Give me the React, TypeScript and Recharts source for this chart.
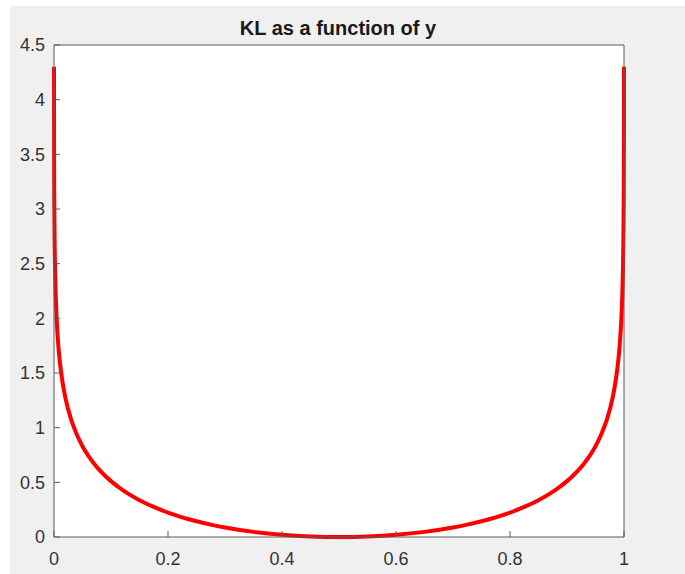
import React from 'react'
import { LineChart, Line, XAxis, YAxis, CartesianGrid } from 'recharts'

// y values (x axis) and KL readings (y axis)
const yValues = [
  0.000046, 0.0001, 0.0002, 0.0005, 0.001, 0.002, 0.003, 0.005, 0.0075, 0.01,
  0.015, 0.02, 0.03, 0.04, 0.05, 0.06, 0.07, 0.08, 0.09, 0.1, 0.12, 0.13, 0.15,
  0.175, 0.2, 0.225, 0.25, 0.275, 0.3, 0.35, 0.4, 0.45, 0.5,
  0.55, 0.6, 0.65, 0.7, 0.725, 0.75, 0.775, 0.8, 0.825, 0.85, 0.87, 0.88, 0.9,
  0.91, 0.92, 0.93, 0.94, 0.95, 0.96, 0.97, 0.98, 0.985, 0.99, 0.9925, 0.995,
  0.997, 0.998, 0.999, 0.9995, 0.9998, 0.9999, 0.999954,
]
const klValues = [
  4.3, 3.912, 3.566, 3.108, 2.761, 2.415, 2.213, 1.959, 1.757, 1.614,
  1.414, 1.273, 1.075, 0.937, 0.83, 0.744, 0.673, 0.611, 0.558, 0.511, 0.431, 0.397, 0.337,
  0.275, 0.223, 0.18, 0.144, 0.113, 0.087, 0.047, 0.02, 0.005, 0,
  0.005, 0.02, 0.047, 0.087, 0.113, 0.144, 0.18, 0.223, 0.275, 0.337, 0.397, 0.431, 0.511,
  0.558, 0.611, 0.673, 0.744, 0.83, 0.937, 1.075, 1.273, 1.414, 1.614, 1.757, 1.959,
  2.213, 2.415, 2.761, 3.108, 3.566, 3.912, 4.3,
]
const xTicks = [0, 0.2, 0.4, 0.6, 0.8, 1]
const yTicks = [0, 0.5, 1, 1.5, 2, 2.5, 3, 3.5, 4, 4.5]

const data = yValues.map((y, i) => ({ y, kl: klValues[i] }))

const axisColor = '#5a5a5a'
const fontFamily = 'Liberation Sans, Arial, sans-serif'
const tickStyle = { fill: '#333', fontSize: 18, fontFamily }

export default function App() {
  return (
    <div style={{ position: 'absolute', left: 0, top: 0, width: 685, height: 574, background: '#fff' }}>
      <div style={{ position: 'absolute', left: 10, top: 6, width: 675, height: 568, background: '#f0f0f0' }} />
      <div
        style={{
          position: 'absolute',
          left: 0,
          top: 18,
          width: 676,
          textAlign: 'center',
          fontFamily,
          fontWeight: 'bold',
          fontSize: 20,
          lineHeight: '20px',
          color: '#1a1a1a',
        }}
      >
        KL as a function of y
      </div>
      <div style={{ position: 'absolute', left: 0, top: 0 }}>
        <LineChart width={685} height={574} data={data} margin={{ top: 44, right: 60, bottom: 0, left: 0 }}>
          <CartesianGrid fill="#fff" horizontal={false} vertical={false} />
          <XAxis
            xAxisId="bottom"
            dataKey="y"
            type="number"
            domain={[0, 1]}
            ticks={xTicks}
            height={37}
            tickSize={-6}
            tickMargin={21}
            stroke={axisColor}
            tick={tickStyle}
          />
          <XAxis
            xAxisId="top"
            orientation="top"
            dataKey="y"
            type="number"
            domain={[0, 1]}
            ticks={xTicks}
            height={1}
            tickSize={-6}
            tick={false}
            stroke={axisColor}
          />
          <YAxis
            yAxisId="left"
            type="number"
            domain={[0, 4.5]}
            ticks={yTicks}
            width={54}
            tickSize={-6}
            tickMargin={15}
            stroke={axisColor}
            tick={tickStyle}
          />
          <YAxis
            yAxisId="right"
            orientation="right"
            type="number"
            domain={[0, 4.5]}
            ticks={yTicks}
            width={1}
            tickSize={-6}
            tick={false}
            stroke={axisColor}
          />
          <Line
            xAxisId="bottom"
            yAxisId="left"
            type="monotone"
            dataKey="kl"
            stroke="#ff0000"
            strokeWidth={4}
            dot={false}
            isAnimationActive={false}
          />
        </LineChart>
      </div>
    </div>
  )
}
